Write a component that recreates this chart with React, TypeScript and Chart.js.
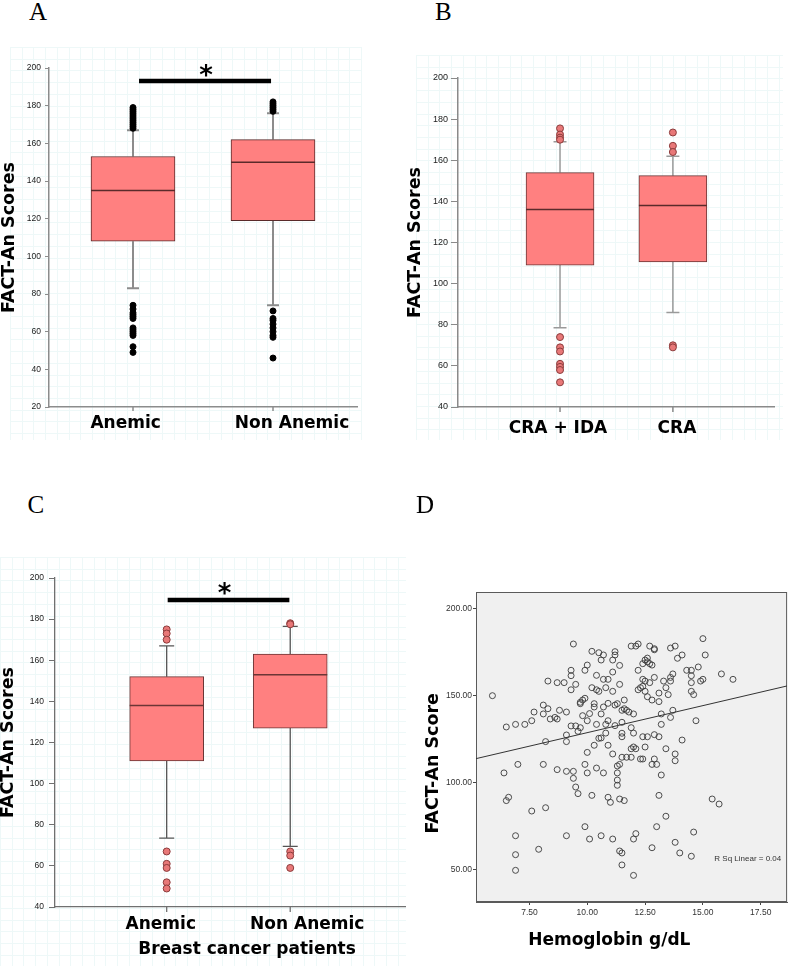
import React, { useEffect, useRef } from 'react';
import { Chart, registerables } from 'chart.js';

Chart.register(...registerables);

// ================= Panel A : Anemic vs Non Anemic =================
const aCategories = ['Anemic', 'Non Anemic'];
const aQ1 = [108, 119];
const aMedian = [135, 150];
const aQ3 = [153, 162];
const aWhiskerLow = [83, 74];
const aWhiskerHigh = [167, 176];
const aOutliersAnemic = [179, 178, 177, 176, 175, 174, 173, 172, 171, 170, 169, 168, 74, 72, 70, 69, 68, 67, 62, 61, 60, 59, 58, 52, 49];
const aOutliersNonAnemic = [182, 181, 180, 179, 178, 177, 71, 67, 66, 64, 62, 60, 58, 57, 46];
const aYTicks = [20, 40, 60, 80, 100, 120, 140, 160, 180, 200];

// ================= Panel B : CRA + IDA vs CRA =================
const bCategories = ['CRA + IDA', 'CRA'];
const bQ1 = [109, 110.5];
const bMedian = [136, 138];
const bQ3 = [154, 152.5];
const bWhiskerLow = [78.5, 86];
const bWhiskerHigh = [169, 162];
const bOutliersCraIda = [175.5, 172.5, 171, 170, 74, 69, 67, 61, 59.5, 58, 52];
const bOutliersCra = [173.5, 167, 164, 70, 69];
const bYTicks = [40, 60, 80, 100, 120, 140, 160, 180, 200];

// ================= Panel C : Breast cancer patients =================
const cCategories = ['Anemic', 'Non Anemic'];
const cQ1 = [111, 127];
const cMedian = [138, 153];
const cQ3 = [152, 163];
const cWhiskerLow = [73.5, 69.5];
const cWhiskerHigh = [167, 176.5];
const cOutliersAnemic = [175, 173, 170, 67, 61, 59, 52, 49];
const cOutliersNonAnemic = [178, 177.5, 67, 65, 59];
const cYTicks = [40, 60, 80, 100, 120, 140, 160, 180, 200];

// ================= Panel D : Hemoglobin vs FACT-An =================
const hemoglobin = [
  5.9, 6.5, 6.9, 7.3, 7.6, 7.7, 8.1, 8.1, 8.3, 8.3, 8.4, 8.6, 8.7, 8.7, 8.8, 9.0, 9.1, 9.1, 9.1, 8.2,
  9.3, 9.3, 9.3, 9.3, 9.4, 9.5, 9.6, 9.7, 9.7, 9.8, 9.8, 9.9, 9.9, 10.0, 10.1, 10.0, 10.0, 10.2, 10.2, 10.3,
  10.4, 10.4, 10.4, 10.5, 10.5, 10.6, 10.6, 10.6, 10.7, 10.7, 10.7, 10.8, 10.8, 10.8, 10.9, 10.9, 11.1, 11.1, 11.1, 11.2,
  11.2, 11.2, 11.3, 11.4, 11.4, 11.5, 11.5, 11.6, 11.6, 11.7, 11.8, 11.9, 12.0, 12.0, 11.9, 12.1, 12.2, 12.3, 12.2, 12.2,
  12.4, 12.4, 12.5, 12.5, 12.6, 12.6, 12.7, 12.7, 12.8, 12.8, 12.9, 12.9, 12.9, 13.1, 13.1, 13.2, 13.2, 13.3, 13.4, 13.5,
  13.6, 13.6, 13.6, 13.7, 13.8, 13.6, 13.7, 13.9, 14.1, 14.3, 14.5, 14.5, 14.5, 14.5, 14.6, 14.7, 14.8, 14.9, 15.0, 15.0,
  15.1, 15.8, 16.3, 14.1, 13.8, 13.8, 13.4, 13.1, 13.2, 13.0, 12.9, 12.8, 12.5, 12.6, 12.4, 12.3, 12.4, 12.1, 12.0, 11.9,
  11.7, 11.5, 11.4, 11.5, 11.5, 11.1, 10.9, 10.5, 10.3, 11.3, 11.3, 11.3, 11.3, 11.4, 11.6, 10.9, 11.0, 10.7, 10.4, 9.9,
  10.0, 9.4, 9.4, 9.1, 8.7, 9.5, 9.6, 10.2, 8.1, 7.0, 6.4, 6.5, 6.6, 7.6, 8.2, 6.9, 6.9, 6.9, 7.9, 9.1,
  9.9, 10.1, 10.6, 11.1, 11.4, 11.5, 11.5, 12.0, 12.1, 12.0, 12.8, 13.0, 13.1, 13.4, 13.8, 14.0, 14.5, 14.6, 15.4, 15.7,
  11.2, 10.9, 10.3, 9.7, 9.5, 12.4, 12.5, 12.7, 12.6, 12.9, 11.9,
];
const factScore = [
  150, 132, 133.5, 133.5, 135.6, 140.6, 144.6, 139.5, 142.5, 158.4, 136.6, 137.5, 136.6, 157.5, 141.6, 157.5, 140.6, 127.4, 123.6, 123.6,
  132.6, 153.4, 161.5, 164.6, 179.7, 156.5, 129.5, 145.4, 131.6, 138.5, 147.5, 148.5, 164.6, 167.6, 139.7, 135.6, 117.4, 175.5, 154.6, 145.4,
  161.7, 153.4, 133.5, 152.5, 174.7, 170.5, 125.7, 139.5, 159.4, 173.4, 143.5, 154.6, 133.5, 128.5, 159.4, 145.6, 152.5, 170.5, 163.6, 175.3,
  173.4, 144.6, 145.4, 156.5, 167.4, 141.6, 134.7, 147.5, 142.5, 141.6, 140.6, 131.6, 139.5, 128.5, 178.5, 178.5, 179.7, 154.6, 153.4, 164.6,
  168.4, 159.4, 170.5, 152.5, 171.6, 149.4, 178.5, 157.5, 167.6, 147.5, 160.5, 176.4, 127.6, 151.5, 146.6, 139.5, 133.5, 158.4, 154.6, 150.6,
  158.4, 177.4, 160.5, 162.5, 178.5, 137.5, 141.6, 171.5, 173.4, 164.6, 164.6, 161.5, 157.5, 152.5, 150.6, 135.6, 166.5, 158.4, 182.8, 159.4,
  173.4, 162.5, 159.4, 124.5, 116.5, 112.6, 119.5, 126.4, 104.4, 110.5, 113.6, 110.5, 120.5, 126.4, 113.6, 113.6, 126.4, 119.5, 120.5, 114.6,
  114.6, 114.6, 110.5, 128.4, 126.4, 116.5, 121.5, 125.5, 121.5, 105.6, 101.5, 98.5, 109.6, 90.6, 89.7, 91.6, 88.7, 105.6, 108.4, 110.5,
  105.6, 106.5, 102.5, 106.5, 107.5, 97.5, 93.7, 92.7, 110.5, 110.5, 105.6, 89.7, 91.6, 83.7, 85.6, 69.5, 58.6, 49.6, 61.7, 69.5,
  74.7, 67.6, 69.5, 67.6, 60.7, 59.6, 52.7, 67.6, 70.7, 46.7, 62.6, 74.7, 92.7, 80.7, 65.7, 59.6, 57.7, 71.6, 90.6, 87.7,
  132.8, 135.6, 143.5, 146.2, 132.6, 155.4, 158.4, 168.4, 169.5, 177, 119.5,
];
const fitHemoglobin = [5.19, 18.64];
const fitScore = [113.8, 155.6];
const dXTicks = [7.5, 10, 12.5, 15, 17.5];
const dYTicks = [50, 100, 150, 200];
const dRSquaredLabel = 'R Sq Linear = 0.04';

// ================= Shared styling =================
const BOLD_FONT = '"DejaVu Sans", "Open Sans", sans-serif';
const TICK_FONT = '"Liberation Sans", Arial, sans-serif';
const BOX_FILL = '#ff8080';

type Area = { left: number; top: number; right: number; bottom: number };

type BoxSpec = {
  categories: string[];
  q1: number[];
  median: number[];
  q3: number[];
  lo: number[];
  hi: number[];
  outliers: number[][];
  yTicks: number[];
  yMin: number;
  yMax: number;
  xMin: number;
  xMax: number;
  labelAt: number[];
  width: number;
  height: number;
  area: Area;
  boxWidth: number;
  capWidth: number;
  axisColor: string;
  axisWidth: number;
  whiskerColor: string;
  whiskerWidth: number;
  boxBorder: string;
  medianColor: string;
  outlierFill: string;
  outlierBorder: string;
  outlierRadius: number;
  yTickLen: number;
  yTickPad: number;
  yTickFont: number;
  xTickLen: number;
  labelPad: number;
  yTitle: string;
  yTitleCenter: number;
  grid: [number, number, number, number];
  sig?: { from: number; to: number; at: number; starX: number; starAt: number };
  xTitle?: { text: string; x: number; y: number };
};

function buildBoxChart(canvas: HTMLCanvasElement, s: BoxSpec) {
  const outlierPoints = s.outliers.flatMap((vals, i) => vals.map((v) => ({ x: i, y: v })));
  const extras = {
    id: 'boxExtras',
    beforeDraw(chart: any) {
      const c = chart.ctx;
      const [x0, y0, x1, y1] = s.grid;
      c.save();
      c.strokeStyle = '#eef8f8';
      c.lineWidth = 1;
      for (let x = x0; x <= x1; x += 11.7) {
        c.beginPath();
        c.moveTo(Math.round(x) + 0.5, y0);
        c.lineTo(Math.round(x) + 0.5, y1);
        c.stroke();
      }
      for (let y = y0; y <= y1; y += 11.7) {
        c.beginPath();
        c.moveTo(x0, Math.round(y) + 0.5);
        c.lineTo(x1, Math.round(y) + 0.5);
        c.stroke();
      }
      c.restore();
    },
    beforeDatasetsDraw(chart: any) {
      const c = chart.ctx;
      const xs = chart.scales.x;
      const ys = chart.scales.y;
      c.save();
      c.strokeStyle = s.whiskerColor;
      c.lineWidth = s.whiskerWidth;
      s.categories.forEach((_, i) => {
        const px = xs.getPixelForValue(i);
        const yHi = ys.getPixelForValue(s.hi[i]);
        const yQ3 = ys.getPixelForValue(s.q3[i]);
        const yQ1 = ys.getPixelForValue(s.q1[i]);
        const yLo = ys.getPixelForValue(s.lo[i]);
        c.beginPath();
        c.moveTo(px, yHi);
        c.lineTo(px, yQ3);
        c.moveTo(px, yQ1);
        c.lineTo(px, yLo);
        c.moveTo(px - s.capWidth / 2, yHi);
        c.lineTo(px + s.capWidth / 2, yHi);
        c.moveTo(px - s.capWidth / 2, yLo);
        c.lineTo(px + s.capWidth / 2, yLo);
        c.stroke();
      });
      c.restore();
    },
    afterDatasetsDraw(chart: any) {
      const c = chart.ctx;
      const xs = chart.scales.x;
      const ys = chart.scales.y;
      const bottom = chart.chartArea.bottom;
      c.save();
      c.strokeStyle = s.medianColor;
      c.lineWidth = 1.5;
      s.categories.forEach((_, i) => {
        const px = xs.getPixelForValue(i);
        const y = ys.getPixelForValue(s.median[i]);
        c.beginPath();
        c.moveTo(px - s.boxWidth / 2, y);
        c.lineTo(px + s.boxWidth / 2, y);
        c.stroke();
      });
      c.strokeStyle = s.axisColor;
      c.lineWidth = s.axisWidth;
      s.categories.forEach((_, i) => {
        const px = xs.getPixelForValue(i);
        c.beginPath();
        c.moveTo(px, bottom);
        c.lineTo(px, bottom + s.xTickLen);
        c.stroke();
      });
      if (s.sig) {
        const y = ys.getPixelForValue(s.sig.at);
        c.strokeStyle = '#000';
        c.lineWidth = 4.5;
        c.beginPath();
        c.moveTo(xs.getPixelForValue(s.sig.from), y);
        c.lineTo(xs.getPixelForValue(s.sig.to), y);
        c.stroke();
        c.fillStyle = '#000';
        c.font = `bold 26px ${BOLD_FONT}`;
        c.textAlign = 'center';
        c.textBaseline = 'alphabetic';
        c.fillText('*', xs.getPixelForValue(s.sig.starX), ys.getPixelForValue(s.sig.starAt) + 12);
      }
      if (s.xTitle) {
        c.fillStyle = '#000';
        c.font = `bold 17px ${BOLD_FONT}`;
        c.textAlign = 'center';
        c.textBaseline = 'middle';
        c.fillText(s.xTitle.text, s.xTitle.x, s.xTitle.y);
      }
      c.restore();
    },
  };

  return new Chart(canvas, {
    type: 'bar',
    data: {
      datasets: [
        {
          type: 'bar',
          data: s.categories.map((_, i) => ({ x: i, y: [s.q1[i], s.q3[i]] })) as any,
          backgroundColor: BOX_FILL,
          borderColor: s.boxBorder,
          borderWidth: 1,
          borderSkipped: false,
          barThickness: s.boxWidth,
          order: 2,
        } as any,
        {
          type: 'scatter',
          data: outlierPoints,
          pointRadius: s.outlierRadius,
          pointBackgroundColor: s.outlierFill,
          pointBorderColor: s.outlierBorder,
          pointBorderWidth: 1,
          order: 1,
        } as any,
      ],
    },
    options: {
      responsive: false,
      animation: false,
      events: [],
      layout: { padding: { left: 0, top: s.area.top, right: s.width - s.area.right, bottom: 0 } },
      plugins: { legend: { display: false }, tooltip: { enabled: false } },
      scales: {
        x: {
          type: 'linear',
          offset: false,
          min: s.xMin,
          max: s.xMax,
          afterBuildTicks: (sc: any) => {
            sc.ticks = s.labelAt.map((v) => ({ value: v }));
          },
          ticks: {
            autoSkip: false,
            maxRotation: 0,
            minRotation: 0,
            padding: s.labelPad,
            color: '#000',
            font: { family: BOLD_FONT, size: 17, weight: 'bold', lineHeight: 1.2 },
            callback: (_v: any, i: number) => s.categories[i],
          },
          grid: { display: true, offset: false, drawOnChartArea: false, drawTicks: false },
          border: { display: true, color: s.axisColor, width: s.axisWidth },
          afterFit: (sc: any) => {
            sc.height = s.height - s.area.bottom;
            sc.paddingLeft = 0;
            sc.paddingRight = 0;
          },
        },
        y: {
          type: 'linear',
          min: s.yMin,
          max: s.yMax,
          afterBuildTicks: (sc: any) => {
            sc.ticks = s.yTicks.map((v) => ({ value: v }));
          },
          ticks: {
            autoSkip: false,
            padding: s.yTickPad,
            color: '#222',
            font: { family: TICK_FONT, size: s.yTickFont },
          },
          grid: {
            display: true,
            drawOnChartArea: false,
            drawTicks: true,
            tickLength: s.yTickLen,
            color: s.axisColor,
            lineWidth: 1,
          },
          border: { display: true, color: s.axisColor, width: s.axisWidth },
          title: {
            display: true,
            text: s.yTitle,
            color: '#000',
            font: { family: BOLD_FONT, size: 17.5, weight: 'bold', lineHeight: 1 },
            padding: { top: s.yTitleCenter - 8.75, bottom: 0 },
          },
          afterFit: (sc: any) => {
            sc.width = s.area.left;
            sc.paddingTop = 0;
            sc.paddingBottom = 0;
          },
        },
      },
    } as any,
    plugins: [extras],
  });
}

const specA: BoxSpec = {
  categories: aCategories,
  q1: aQ1,
  median: aMedian,
  q3: aQ3,
  lo: aWhiskerLow,
  hi: aWhiskerHigh,
  outliers: [aOutliersAnemic, aOutliersNonAnemic],
  yTicks: aYTicks,
  yMin: 20,
  yMax: 200,
  xMin: -0.6,
  xMax: 1.6,
  labelAt: [-0.053, 1.136],
  width: 370,
  height: 420,
  area: { left: 49, top: 28, right: 357, bottom: 367 },
  boxWidth: 84,
  capWidth: 12,
  axisColor: '#8c8c8c',
  axisWidth: 1.5,
  whiskerColor: '#8c8c8c',
  whiskerWidth: 2,
  boxBorder: '#5a2a2a',
  medianColor: '#5a2a2a',
  outlierFill: '#000',
  outlierBorder: '#000',
  outlierRadius: 3,
  yTickLen: 4,
  yTickPad: 4,
  yTickFont: 8.5,
  xTickLen: 4,
  labelPad: 6,
  yTitle: 'FACT-An Scores',
  yTitleCenter: 9,
  grid: [10, 7, 362, 400],
  sig: { from: 0.043, to: 0.986, at: 193.1, starX: 0.521, starAt: 198.1 },
};

const specB: BoxSpec = {
  categories: bCategories,
  q1: bQ1,
  median: bMedian,
  q3: bQ3,
  lo: bWhiskerLow,
  hi: bWhiskerHigh,
  outliers: [bOutliersCraIda, bOutliersCra],
  yTicks: bYTicks,
  yMin: 40,
  yMax: 200,
  xMin: -0.904,
  xMax: 1.896,
  labelAt: [-0.018, 1.036],
  width: 396,
  height: 420,
  area: { left: 62, top: 38, right: 378, bottom: 367 },
  boxWidth: 68,
  capWidth: 13,
  axisColor: '#8a8a8a',
  axisWidth: 1.5,
  whiskerColor: '#9a9a9a',
  whiskerWidth: 1.5,
  boxBorder: '#6b3535',
  medianColor: '#5a2a2a',
  outlierFill: '#e87878',
  outlierBorder: '#8b3b3b',
  outlierRadius: 3.5,
  yTickLen: 7,
  yTickPad: 3,
  yTickFont: 9,
  xTickLen: 5,
  labelPad: 11,
  yTitle: 'FACT-An Scores',
  yTitleCenter: 19.5,
  grid: [20, 15, 387, 400],
};

const specC: BoxSpec = {
  categories: cCategories,
  q1: cQ1,
  median: cMedian,
  q3: cQ3,
  lo: cWhiskerLow,
  hi: cWhiskerHigh,
  outliers: [cOutliersAnemic, cOutliersNonAnemic],
  yTicks: cYTicks,
  yMin: 40,
  yMax: 200,
  xMin: -0.904,
  xMax: 1.929,
  labelAt: [-0.048, 1.138],
  width: 410,
  height: 426,
  area: { left: 55, top: 38, right: 406, bottom: 367 },
  boxWidth: 74,
  capWidth: 15,
  axisColor: '#707070',
  axisWidth: 1.3,
  whiskerColor: '#555',
  whiskerWidth: 1.3,
  boxBorder: '#6b3535',
  medianColor: '#6b3535',
  outlierFill: '#e87878',
  outlierBorder: '#8b3b3b',
  outlierRadius: 3.5,
  yTickLen: 6,
  yTickPad: 5,
  yTickFont: 8.5,
  xTickLen: 5,
  labelPad: 7.8,
  yTitle: 'FACT-An Scores',
  yTitleCenter: 8,
  grid: [0, 17, 406, 426],
  sig: { from: 0.008, to: 0.993, at: 189.3, starX: 0.468, starAt: 194.2 },
  xTitle: { text: 'Breast cancer patients', x: 247, y: 409.5 },
};

function buildScatterChart(canvas: HTMLCanvasElement) {
  const W = 396;
  const H = 506;
  const area: Area = { left: 80, top: 132, right: 395, bottom: 442 };
  const extras = {
    id: 'scatterExtras',
    beforeDraw(chart: any) {
      const c = chart.ctx;
      const a = chart.chartArea;
      c.save();
      c.fillStyle = '#f0f0f0';
      c.fillRect(a.left, a.top, a.right - a.left, a.bottom - a.top);
      c.restore();
    },
    beforeDatasetsDraw(chart: any) {
      const c = chart.ctx;
      const a = chart.chartArea;
      c.save();
      c.strokeStyle = '#5a5a5a';
      c.lineWidth = 1;
      c.strokeRect(a.left + 0.5, a.top + 0.5, a.right - a.left - 1, a.bottom - a.top - 1);
      c.restore();
    },
    afterDraw(chart: any) {
      const c = chart.ctx;
      const xs = chart.scales.x;
      const ys = chart.scales.y;
      c.save();
      c.fillStyle = '#333';
      c.font = `8px "Liberation Sans Narrow", ${TICK_FONT}`;
      c.textAlign = 'center';
      c.textBaseline = 'middle';
      c.fillText(dRSquaredLabel, xs.getPixelForValue(16.94), ys.getPixelForValue(56));
      c.fillStyle = '#000';
      c.font = `bold 17px ${BOLD_FONT}`;
      c.fillText('Hemoglobin g/dL', 213.3, 480.5);
      c.translate(37.5, 303.3);
      c.rotate(-Math.PI / 2);
      c.font = `bold 17.5px ${BOLD_FONT}`;
      c.fillText('FACT-An Score', 0, 0);
      c.restore();
    },
  };
  return new Chart(canvas, {
    type: 'scatter',
    data: {
      datasets: [
        {
          type: 'scatter',
          data: hemoglobin.map((h, i) => ({ x: h, y: factScore[i] })),
          pointRadius: 3,
          pointBackgroundColor: 'rgba(0,0,0,0)',
          pointBorderColor: '#3a3a3a',
          pointBorderWidth: 0.9,
        },
        {
          type: 'line',
          data: fitHemoglobin.map((h, i) => ({ x: h, y: fitScore[i] })),
          borderColor: '#333',
          borderWidth: 1,
          pointRadius: 0,
          fill: false,
        },
      ],
    } as any,
    options: {
      responsive: false,
      animation: false,
      events: [],
      layout: { padding: { left: 0, top: area.top, right: W - area.right, bottom: 0 } },
      plugins: { legend: { display: false }, tooltip: { enabled: false } },
      scales: {
        x: {
          type: 'linear',
          min: 5.19,
          max: 18.64,
          afterBuildTicks: (sc: any) => {
            sc.ticks = dXTicks.map((v) => ({ value: v }));
          },
          ticks: {
            autoSkip: false,
            maxRotation: 0,
            padding: 2.5,
            color: '#333',
            font: { family: `"Liberation Sans Narrow", ${TICK_FONT}`, size: 8.5, lineHeight: 1.2 },
            callback: (v: any) => Number(v).toFixed(2),
          },
          grid: { display: true, drawOnChartArea: false, drawTicks: true, tickLength: 3, color: '#444' },
          border: { display: true, color: '#5a5a5a' },
          afterFit: (sc: any) => {
            sc.height = H - area.bottom;
            sc.paddingLeft = 0;
            sc.paddingRight = 0;
          },
        },
        y: {
          type: 'linear',
          min: 31.4,
          max: 209.6,
          afterBuildTicks: (sc: any) => {
            sc.ticks = dYTicks.map((v) => ({ value: v }));
          },
          ticks: {
            autoSkip: false,
            padding: 1,
            color: '#333',
            font: { family: `"Liberation Sans Narrow", ${TICK_FONT}`, size: 8.5 },
            callback: (v: any) => Number(v).toFixed(2),
          },
          grid: { display: true, drawOnChartArea: false, drawTicks: true, tickLength: 3, color: '#444' },
          border: { display: true, color: '#5a5a5a' },
          afterFit: (sc: any) => {
            sc.width = area.left;
            sc.paddingTop = 0;
            sc.paddingBottom = 0;
          },
        },
      },
    } as any,
    plugins: [extras],
  });
}

function ChartCanvas(props: {
  left: number;
  top: number;
  width: number;
  height: number;
  build: (c: HTMLCanvasElement) => Chart;
}) {
  const ref = useRef<HTMLCanvasElement | null>(null);
  useEffect(() => {
    if (!ref.current) return;
    const chart = props.build(ref.current);
    return () => chart.destroy();
  }, []);
  return (
    <canvas
      ref={ref}
      width={props.width}
      height={props.height}
      style={{
        position: 'absolute',
        left: props.left,
        top: props.top,
        width: props.width,
        height: props.height,
        display: 'block',
      }}
    />
  );
}

function PanelLetter(props: { text: string; left: number; top: number }) {
  return (
    <div
      style={{
        position: 'absolute',
        left: props.left,
        top: props.top,
        fontFamily: '"Liberation Serif", "DejaVu Serif", serif',
        fontSize: 25,
        lineHeight: '25px',
        color: '#000',
      }}
    >
      {props.text}
    </div>
  );
}

export default function App() {
  return (
    <div
      style={{
        position: 'absolute',
        left: 0,
        top: 0,
        width: 792,
        height: 966,
        background: '#fff',
        overflow: 'hidden',
      }}
    >
      <ChartCanvas left={0} top={40} width={370} height={420} build={(c) => buildBoxChart(c, specA)} />
      <ChartCanvas left={396} top={40} width={396} height={420} build={(c) => buildBoxChart(c, specB)} />
      <ChartCanvas left={0} top={540} width={410} height={426} build={(c) => buildBoxChart(c, specC)} />
      <ChartCanvas left={396} top={460} width={396} height={506} build={buildScatterChart} />
      <PanelLetter text="A" left={29} top={-1} />
      <PanelLetter text="B" left={435} top={-1} />
      <PanelLetter text="C" left={27.5} top={492} />
      <PanelLetter text="D" left={416} top={492} />
    </div>
  );
}
